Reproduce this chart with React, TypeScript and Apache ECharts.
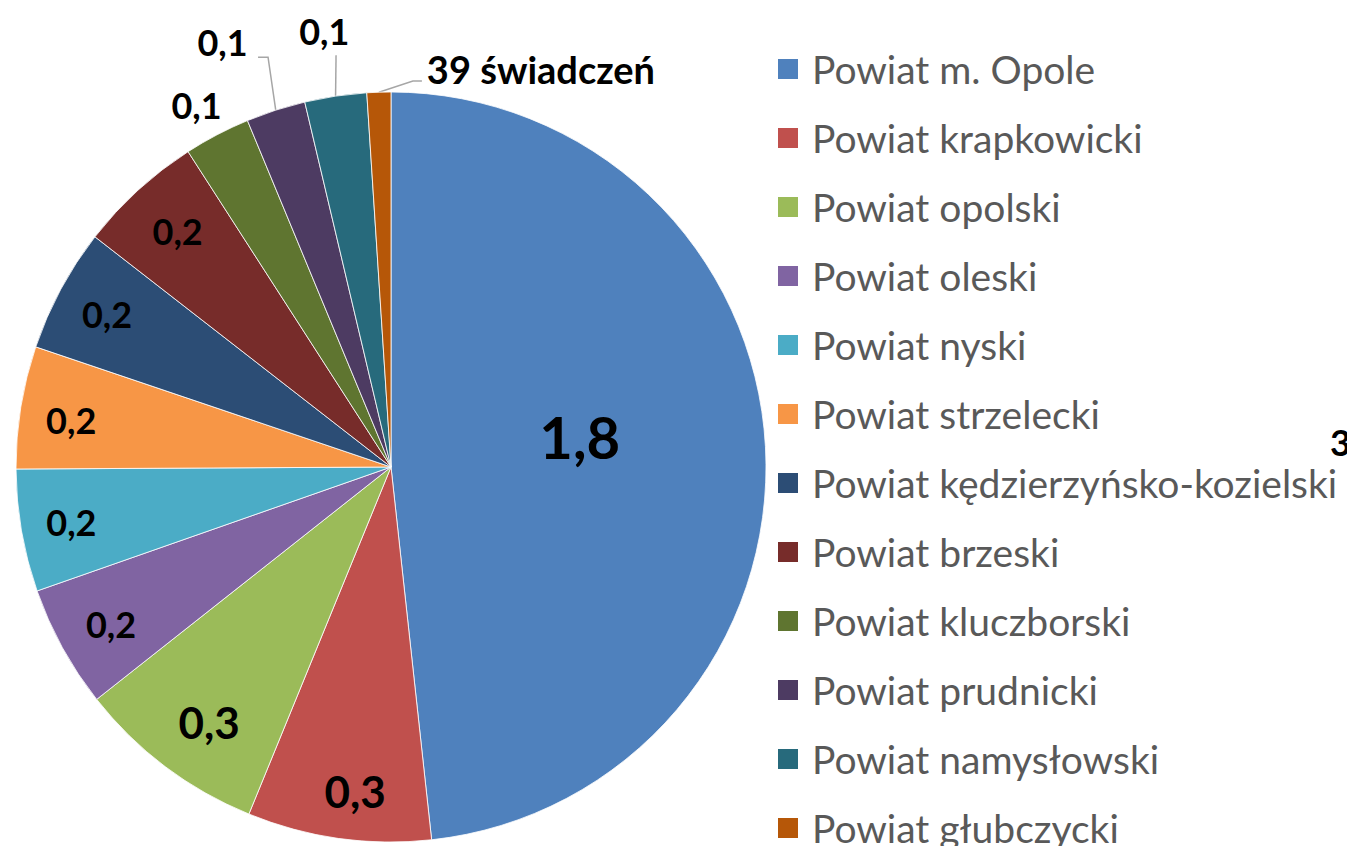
import React, { useEffect, useRef } from "react";
import * as echarts from "echarts";

const categories = [
  "Powiat m. Opole",
  "Powiat krapkowicki",
  "Powiat opolski",
  "Powiat oleski",
  "Powiat nyski",
  "Powiat strzelecki",
  "Powiat kędzierzyńsko-kozielski",
  "Powiat brzeski",
  "Powiat kluczborski",
  "Powiat prudnicki",
  "Powiat namysłowski",
  "Powiat głubczycki",
];

// number of benefits (świadczenia); labels show thousands
const values = [1830, 300, 310, 200, 200, 200, 202, 204, 108, 97, 101, 39];

const colors = [
  "#4F81BD", "#C0504D", "#9BBB59", "#8064A2", "#4BACC6", "#F79646",
  "#2C4D75", "#772C2A", "#5F7530", "#4D3B62", "#276A7C", "#B65708",
];

const CX = 391;
const CY = 467;
const R = 375;
const FONT = "Lato, 'Open Sans', sans-serif";

// label placement in polar terms relative to the slice's mid-angle and the radius
type Place = {
  f: number;
  shift: number;
  size: number;
  outside?: boolean;
  align?: "left" | "center" | "right";
  line?: { f: number; shift: number; dx: number };
};
const places: Place[] = [
  { f: 0.51, shift: -6.2, size: 58 },
  { f: 0.87, shift: -1.7, size: 44 },
  { f: 0.835, shift: -1.5, size: 44 },
  { f: 0.856, shift: -0.5, size: 36 },
  { f: 0.865, shift: 0, size: 36 },
  { f: 0.862, shift: -0.8, size: 36 },
  { f: 0.86, shift: 0, size: 36 },
  { f: 0.848, shift: 0.3, size: 36 },
  { f: 1.096, shift: -0.6, size: 36, outside: true },
  { f: 1.22, shift: -3.7, size: 36, outside: true, line: { f: 1.141, shift: 1.2, dx: -10 } },
  { f: 1.176, shift: -0.2, size: 36, outside: true, line: { f: 1.108, shift: 0.9, dx: 0 } },
  { f: 1.066, shift: 7.0, size: 38, outside: true, align: "left", line: { f: 1.031, shift: 5.1, dx: 9 } },
];

function labelText(v: number, i: number): string {
  if (i === values.length - 1) return `${v} świadczeń`;
  return (v / 1000).toFixed(1).replace(".", ",");
}

function polar(f: number, deg: number): [number, number] {
  const a = (deg * Math.PI) / 180;
  return [CX + f * R * Math.sin(a), CY - f * R * Math.cos(a)];
}

export default function App() {
  const ref = useRef<HTMLDivElement>(null);

  useEffect(() => {
    document.body.style.margin = "0";
    if (!ref.current) return;
    const chart = echarts.init(ref.current, undefined, { renderer: "svg" });

    const total = values.reduce((a, b) => a + b, 0);
    const mids: number[] = [];
    let acc = 0;
    values.forEach((v) => {
      mids.push(((acc + v / 2) / total) * 360);
      acc += v;
    });

    const data = values.map((v, i) => {
      const p = places[i];
      return {
        name: categories[i],
        value: v,
        itemStyle: { color: colors[i] },
        label: {
          show: true,
          position: p.outside ? "outside" : "inside",
          fontSize: p.size,
        },
        labelLine: { show: !!p.line },
      };
    });

    chart.setOption({
      animation: false,
      backgroundColor: "#ffffff",
      legend: {
        orient: "vertical",
        left: 771,
        top: 42,
        height: 1000,
        itemWidth: 22,
        itemHeight: 22,
        itemGap: 25,
        icon: "rect",
        selectedMode: false,
        data: categories,
        textStyle: {
          fontFamily: FONT,
          fontSize: 39,
          color: "#595959",
          lineHeight: 44,
          padding: [0, 0, 0, 8],
        },
      },
      graphic: [
        {
          type: "text",
          left: 1330,
          top: 424,
          style: {
            text: "3",
            font: `bold 36px ${FONT}`,
            fill: "#000000",
          },
        },
      ],
      series: [
        {
          type: "pie",
          center: [CX, CY],
          radius: [0, R],
          startAngle: 90,
          clockwise: true,
          silent: true,
          avoidLabelOverlap: false,
          itemStyle: { borderColor: "#ffffff", borderWidth: 0.8 },
          label: {
            color: "#000000",
            fontWeight: "bold",
            fontFamily: FONT,
            formatter: (p: any) => labelText(p.value, p.dataIndex),
          },
          labelLine: {
            length: 20,
            length2: 10,
            lineStyle: { color: "#a6a6a6", width: 1.5 },
          },
          labelLayout: (params: any) => {
            const i = params.dataIndex;
            const p = places[i];
            const [x, y] = polar(p.f, mids[i] + p.shift);
            const out: any = {
              x,
              y,
              align: p.align || "center",
              verticalAlign: "middle",
            };
            if (p.line) {
              const p0 = polar(1, mids[i]);
              const p1 = polar(p.line.f, mids[i] + p.line.shift);
              const p2: [number, number] = [p1[0] + p.line.dx, p1[1]];
              out.labelLinePoints = [p0, p1, p2];
            }
            return out;
          },
          data,
        },
      ],
    });

    return () => chart.dispose();
  }, []);

  return <div ref={ref} style={{ width: 1347, height: 846 }} />;
}
